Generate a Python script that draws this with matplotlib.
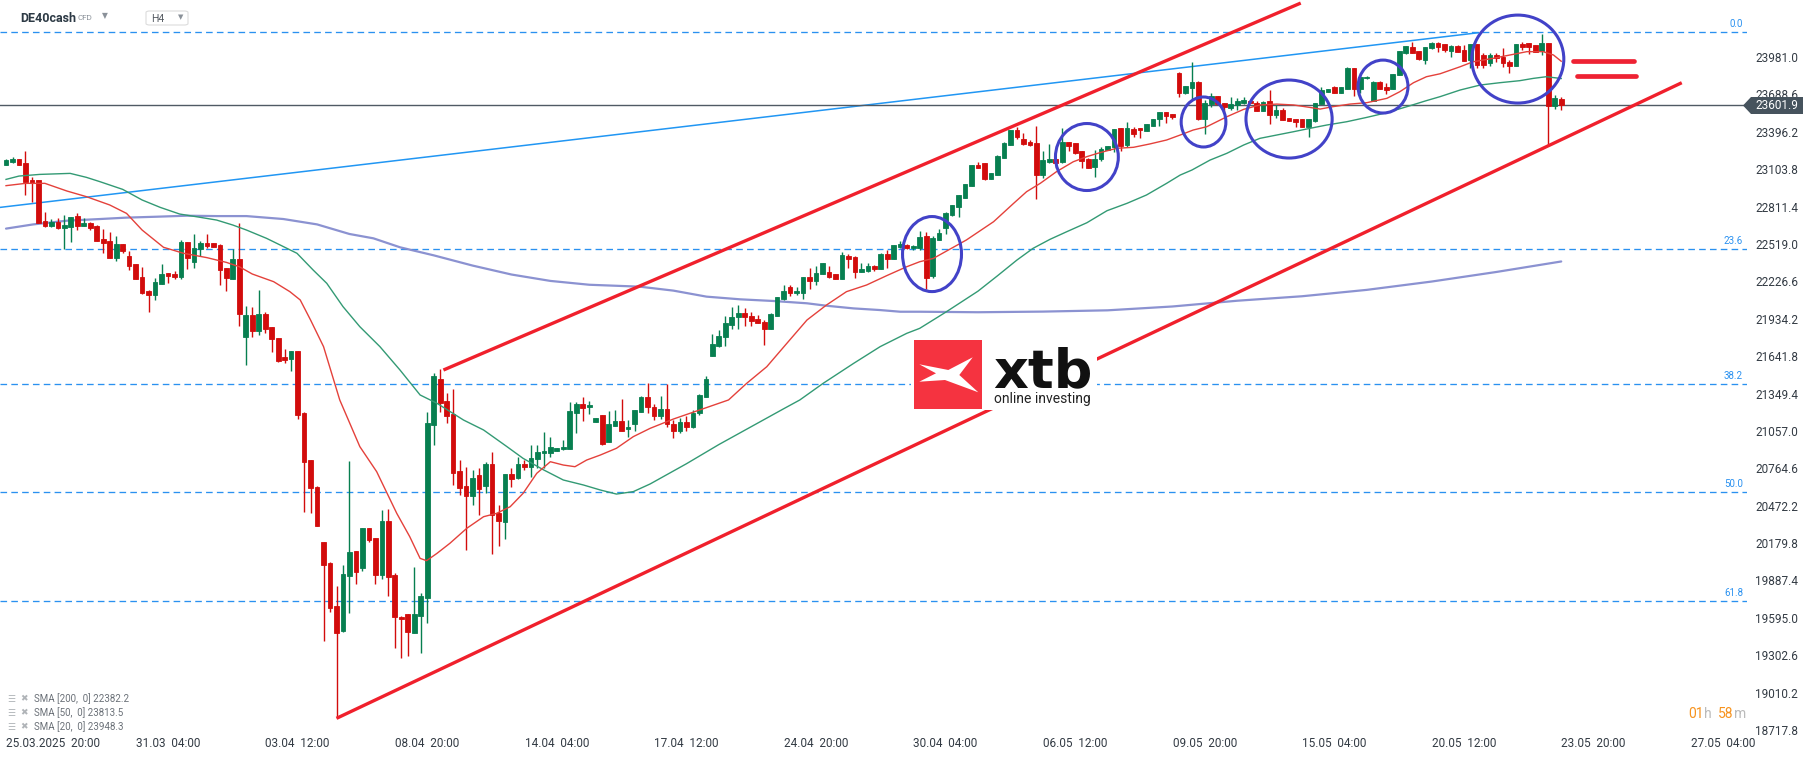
import numpy as np
import matplotlib
matplotlib.use("Agg")
import matplotlib.pyplot as plt
from matplotlib.patches import Ellipse, Polygon, Rectangle, FancyBboxPatch

plt.rcParams['font.family'] = ['Roboto', 'DejaVu Sans']

# ---------------- data ----------------
opens = [23139,23162,23183,23152,23019,23019,22698,22662,22688,22646,22654,22737,22662,22683,22659,22558,22542,22412,22519,22425,
         22362,22260,22151,22122,22208,22292,22284,22260,22534,22380,22477,22524,22524,22511,22328,22247,22401,21794,21963,21841,
         21971,21867,21784,21635,21619,21682,21199,20829,20621,20188,20026,19688,19492,19922,20118,19982,20298,20219,19930,20352,
         19930,19604,19625,19479,19612,19753,21103,21463,21291,21189,20743,20626,20550,20709,20626,20795,20412,20347,20720,20686,
         20795,20777,20834,20882,20887,20902,20913,20918,21199,21267,21241,21129,21181,20973,21098,21137,21069,21108,21207,21325,
         21246,21170,21230,21110,21060,21130,21090,21200,21325,21643,21721,21794,21885,21950,21976,21955,21932,21906,21856,21958,
         22086,22180,22133,22138,22258,22232,22284,22302,22284,22247,22425,22420,22302,22310,22347,22323,22440,22404,22498,22511,
         22487,22485,22581,22270,22550,22640,22745,22810,22881,22975,23136,23149,23027,23058,23194,23293,23410,23340,23319,23306,
         23058,23162,23183,23162,23314,23306,23246,23183,23123,23183,23254,23280,23423,23293,23415,23423,23405,23441,23496,23548,
         23532,23858,23697,23741,23788,23493,23614,23676,23619,23585,23606,23619,23640,23624,23561,23640,23527,23566,23506,23496,
         23496,23436,23483,23613,23710,23744,23702,23731,23892,23731,23814,23640,23788,23744,23731,23840,24010,24057,24028,23958,
         24049,24088,24083,24028,24070,24036,23958,24083,23997,23937,23997,23984,23939,23913,24083,24088,24075,24030,24088,23598,
         23650]
highs = [23181,23196,23186,23246,23045,23019,22771,22711,22719,22745,22727,22761,22719,22690,22665,22636,22610,22581,22522,22467,
         22365,22339,22159,22253,22362,22295,22305,22550,22537,22597,22542,22597,22530,22519,22330,22477,22680,22034,22023,22159,
         21989,21870,21786,21698,21684,21684,21207,20831,20623,20190,20034,19844,20008,20824,20120,20298,20300,20221,20438,20444,
         19948,19606,19627,19995,19792,21207,21507,21541,21351,21385,20829,20777,20751,20764,20816,20894,20477,20722,20764,20855,
         20829,20947,20947,21051,21012,20925,20986,21286,21286,21319,21290,21160,21183,21212,21220,21304,21142,21222,21327,21429,
         21270,21330,21420,21140,21160,21170,21220,21345,21486,21815,21846,21955,22023,22041,22015,21984,21963,21924,21981,22103,
         22198,22198,22185,22260,22328,22347,22369,22347,22286,22453,22440,22425,22367,22367,22352,22451,22472,22513,22542,22520,
         22510,22620,22610,22580,22633,22766,22826,22901,22990,23138,23162,23151,23073,23211,23313,23412,23431,23384,23332,23441,
         23246,23301,23185,23423,23316,23308,23248,23188,23254,23275,23287,23417,23425,23475,23431,23425,23459,23495,23550,23550,
         23534,23866,23756,23944,23790,23645,23697,23678,23621,23665,23660,23665,23642,23640,23634,23723,23605,23580,23508,23498,
         23498,23498,23621,23744,23733,23754,23746,23900,23894,23829,23830,23790,23790,23775,23847,24030,24069,24096,24030,24059,
         24096,24101,24085,24072,24072,24075,24085,24085,24010,24010,24010,24049,23958,24085,24101,24090,24077,24161,24090,23684,
         23671]
lows = [23139,23155,23139,22902,22850,22685,22654,22654,22638,22482,22537,22628,22660,22631,22542,22451,22410,22388,22451,22315,
        22245,22125,21989,22083,22205,22216,22247,22247,22326,22334,22425,22485,22495,22198,22154,22245,21880,21572,21794,21807,
        21820,21677,21593,21585,21528,21150,20425,20417,20314,19416,19643,18809,19487,19635,19857,19964,20186,19860,19901,19766,
        19362,19278,19297,19477,19317,19557,20947,21207,21116,20634,20556,20125,20477,20399,20569,20092,20157,20214,20621,20684,
        20751,20699,20764,20764,20855,20900,20911,20916,21038,21137,21190,21127,20947,20971,21096,21057,21007,21059,21205,21194,
        21140,21150,21090,21000,21040,21060,21080,21180,21320,21641,21716,21723,21854,21854,21880,21880,21898,21729,21854,21956,
        22081,22115,22120,22086,22164,22198,22282,22255,22245,22245,22333,22250,22300,22302,22310,22321,22333,22399,22485,22480,
        22472,22472,22170,22250,22548,22600,22740,22732,22879,22973,23110,23022,23025,23056,23192,23291,23337,23293,23285,22871,
        23032,23155,23110,23155,23246,23222,23110,23110,23045,23170,23252,23241,23246,23280,23353,23345,23403,23439,23441,23462,
        23500,23671,23695,23650,23488,23376,23593,23612,23540,23567,23570,23617,23620,23558,23559,23454,23501,23486,23481,23436,
        23434,23353,23470,23611,23708,23697,23700,23729,23676,23697,23812,23638,23729,23692,23729,23838,24008,24013,23961,23924,
        24047,24023,24023,23983,24021,23951,23892,23897,23897,23910,23944,23905,23853,23911,24036,24005,24021,23997,23293,23572,
        23567]
closes = [23175,23183,23139,23006,22993,22685,22662,22688,22646,22667,22727,22662,22680,22646,22545,22527,22412,22519,22467,22349,
          22247,22138,22122,22221,22284,22271,22260,22537,22412,22487,22527,22503,22495,22315,22255,22401,21974,21963,21841,21971,
          21854,21773,21604,21612,21682,21181,20816,20608,20316,20011,19674,19479,19938,20110,19956,20298,20204,19930,20352,19917,
          19604,19583,19487,19625,19766,21119,21486,21278,21176,20728,20613,20550,20691,20600,20795,20402,20355,20720,20678,20795,
          20777,20842,20889,20900,20928,20923,20931,21213,21267,21233,21259,21158,20952,21111,21137,21059,21090,21220,21325,21246,
          21170,21230,21110,21060,21130,21090,21200,21338,21460,21734,21799,21898,21945,21976,21950,21919,21903,21856,21971,22101,
          22151,22133,22151,22258,22232,22289,22367,22263,22247,22433,22404,22302,22323,22347,22323,22440,22404,22511,22516,22485,
          22506,22576,22253,22568,22602,22764,22824,22899,22988,23136,23115,23024,23071,23209,23311,23410,23353,23301,23293,23058,
          23175,23183,23149,23319,23285,23233,23170,23115,23183,23259,23285,23415,23285,23423,23379,23410,23457,23493,23548,23522,
          23514,23697,23754,23788,23493,23619,23676,23614,23587,23611,23640,23645,23624,23561,23632,23527,23566,23488,23483,23475,
          23436,23496,23619,23723,23731,23702,23744,23892,23731,23827,23827,23788,23731,23723,23845,24028,24067,24015,23963,24057,
          24088,24062,24036,24070,24023,23953,24083,23918,23918,23997,23971,23932,23913,24083,24062,24062,24023,24088,23598,23658,
          23602]

sma20_x = [0,3,6,9.4,12.4,16,18.6,21,24.3,27.4,31,34,36,38,41.3,43.8,45.4,47,49,51.5,54.6,57.2,60.3,62.3,63.9,64.9,66.5,68.5,
           71.1,73.7,75.7,77.8,79.8,81.9,84,86,87.8,89.6,91.7,94.2,96.8,99.4,103,107,111.5,114.3,117.4,120.5,123.6,126.6,129.7,
           132.8,135.9,139,141,143.1,148.2,152.4,155.5,157.5,159.6,162.1,164.7,166.8,168.8,171.4,174,176.5,179.1,181.2,183.2,
           185.3,188.4,191,193.5,196.1,198.7,201.2,202.8,204.8,207.4,210,213.1,215.1,217.2,219.2,221.3,224.4,226.4,229.5,232.6,
           234.7,237.2,238.8,240]
sma20_y = [22975,22993,22993,22933,22889,22824,22758,22628,22493,22446,22412,22375,22341,22284,22224,22146,22081,21924,21716,
           21299,20934,20738,20412,20230,20060,20042,20099,20178,20295,20386,20412,20464,20569,20725,20816,20790,20777,20829,
           20868,20921,21012,21077,21150,21220,21299,21429,21559,21742,21924,22041,22146,22198,22271,22341,22380,22406,22550,
           22693,22837,22928,22993,23084,23162,23202,23233,23267,23275,23301,23332,23371,23410,23436,23514,23572,23606,23613,
           23606,23587,23574,23593,23613,23624,23658,23710,23780,23827,23850,23905,23944,23971,24002,24023,24023,23997,23948]

sma50_x = [0,2,5.2,9.9,12.4,14.5,18,21,23.8,26.8,30,32.5,35,37.1,40.2,42.3,44.9,47.4,49.5,52,54.6,57.7,60.8,63.9,66.5,70.6,
           73.7,77.3,79.8,83,86,89.1,91.7,94.2,96.8,99.4,105,110,115,120,122.5,126.1,130.8,134.9,139,141,145,150,153,156,158.5,
           161.1,163.7,166.8,169.9,173,176,179.1,181.2,183,185.8,188.4,191,193.5,196.1,198.7,201.2,203.8,206.9,210,213.1,216.2,
           219.2,221.3,224.4,227.5,230.5,233.6,235.7,237.7,240]
sma50_y = [23024,23050,23063,23071,23040,23006,22946,22863,22805,22753,22727,22706,22667,22628,22563,22511,22446,22315,22211,
           22029,21872,21716,21533,21338,21273,21142,21064,20934,20842,20751,20673,20634,20595,20563,20582,20642,20800,20950,
           21090,21230,21299,21429,21585,21716,21820,21859,21985,22150,22270,22393,22485,22555,22615,22685,22779,22837,22902,
           22993,23058,23097,23175,23228,23293,23345,23371,23397,23423,23449,23475,23509,23546,23593,23640,23671,23723,23762,
           23780,23796,23814,23827,23813]

sma200_x = [0,4.2,9.4,14.5,18.6,23.2,27.9,32.5,37.1,42.8,48,53,56.7,60.8,66,72,78,84,90,97.8,103,108.1,113.3,118.4,123.6,
            126.6,130.8,134.9,138,141,150,160,170,180,190,200,210,220,230,240]
sma200_y = [22639,22672,22701,22714,22725,22732,22740,22737,22737,22714,22672,22597,22563,22493,22430,22350,22280,22230,22200,
            22185,22154,22107,22086,22073,22055,22036,22015,22002,21989,21989,21985,21990,22000,22030,22075,22110,22160,22225,
            22300,22382]

last_price = 23601.9
fib_labels = ["0.0", "23.6", "38.2", "50.0", "61.8"]
fib_prices = [24174, 22477, 21427, 20578, 19730]

channel_upper = [(67.5, 21533), (199.8, 24403)]
channel_lower = [(51.0, 18809), (258.6, 23780)]
blue_line = [(-0.93, 22805), (227.2, 24171)]

ellipses = [(142.9, 22440, 9.1, 587), (166.8, 23199, 9.7, 524), (184.8, 23473, 6.9, 391),
            (198.0, 23496, 13.3, 610), (212.5, 23750, 7.7, 414), (233.3, 23965, 14.2, 688)]
equal_marks = [((241.8, 251.2), 23947), ((242.4, 251.5), 23830)]

yticks = [23981.0, 23688.6, 23396.2, 23103.8, 22811.4, 22519.0, 22226.6, 21934.2, 21641.8, 21349.4,
          21057.0, 20764.6, 20472.2, 20179.8, 19887.4, 19595.0, 19302.6, 19010.2, 18717.8]
xtick_pos = [5, 25, 45, 65, 85, 105, 125, 145, 165, 185, 205, 225, 245, 265]
xtick_lab = ["25.03.2025  20:00", "31.03  04:00", "03.04  12:00", "08.04  20:00", "14.04  04:00", "17.04  12:00",
             "24.04  20:00", "30.04  04:00", "06.05  12:00", "09.05  20:00", "15.05  04:00", "20.05  12:00",
             "23.05  20:00", "27.05  04:00"]
legend_rows = ["SMA [200,  0] 22382.2", "SMA [50,  0] 23813.5", "SMA [20,  0] 23948.3"]

# ---------------- figure ----------------
W, H = 1815, 759
fig = plt.figure(figsize=(W / 100, H / 100), dpi=100)
fig.patch.set_facecolor("white")
AX_R, AX_B = 1747, 737
ax = fig.add_axes([0, 1 - AX_B / H, AX_R / W, AX_B / H])
ax.set_facecolor("white")
for s in ax.spines.values():
    s.set_visible(False)
ax.set_xlim(-0.93, 268.67)
ax.set_ylim(18663, 24427)

def px(x, y):
    return (x / W, 1 - y / H)

GREEN = "#077f50"
RED = "#d20c0c"
FIB = "#2a91f0"

# fib lines
for lab, pr in zip(fib_labels, fib_prices):
    ax.axhline(pr, color=FIB, lw=0.95, dashes=(5, 3.2), zorder=1)
    ax.annotate(lab, xy=(1743 / AX_R, pr), xycoords=("axes fraction", "data"), xytext=(0, 2.2),
                textcoords="offset points", ha="right", va="bottom", fontsize=7, color=FIB, zorder=2)

# blue thin trend line
ax.plot([p[0] for p in blue_line], [p[1] for p in blue_line], color="#2196f3", lw=1.1, zorder=2)

# last price line
ax.axhline(last_price, color="#505a64", lw=1.0, zorder=2)

# SMAs
ax.plot(sma200_x, sma200_y, color="#7f86cc", lw=1.6, alpha=0.9, zorder=2.5, solid_capstyle="round")
ax.plot(sma50_x, sma50_y, color="#339a74", lw=1.0, zorder=4)
ax.plot(sma20_x, sma20_y, color="#e4413b", lw=1.0, zorder=4)

# candles
idx = np.arange(len(opens))
o = np.array(opens, float); c = np.array(closes, float)
hi = np.array(highs, float); lo = np.array(lows, float)
up = c >= o
cols = np.where(up, GREEN, RED)
ax.vlines(idx, lo, hi, colors=cols, lw=1.0, zorder=3)
bottoms = np.minimum(o, c)
heights = np.abs(c - o)
ax.bar(idx, heights, bottom=bottoms, width=0.72, color=cols, edgecolor=cols, linewidth=0.6, zorder=3.1)

# channel lines
for ln in (channel_upper, channel_lower):
    ax.plot([p[0] for p in ln], [p[1] for p in ln], color="#f0202c", lw=2.4, zorder=5, solid_capstyle="butt")

# ellipses
for cx, cy, w, h in ellipses:
    ax.add_patch(Ellipse((cx, cy), w, h, fill=False, ec="#4242c8", lw=2.2, zorder=6))

# "=" marks
for (x0, x1), yv in equal_marks:
    ax.plot([x0, x1], [yv, yv], color="#ee2233", lw=3.4, solid_capstyle="round", zorder=6)

# y ticks on right
ax.yaxis.tick_right()
ax.set_yticks(yticks)
ax.set_yticklabels([f"{v:.1f}" for v in yticks])
ax.tick_params(axis="y", length=0, pad=6, labelsize=8.5, labelcolor="#333b44")
ax.set_xticks([])

# x labels
xt = ax.get_xaxis_transform()
for i, (pos, lab) in enumerate(zip(xtick_pos, xtick_lab)):
    if i == 0:
        ax.text(0, -0.0085, lab, transform=xt, ha="left", va="center", fontsize=8.5, color="#333b44", clip_on=False)
    else:
        ax.text(pos, -0.0085, lab, transform=xt, ha="center", va="center", fontsize=8.5, color="#333b44", clip_on=False)

# price tag
yt = ax.get_yaxis_transform()
hh = 8.5 / (AX_B / (24427 - 18663))
tag = Polygon([(1743 / AX_R, last_price), (1751 / AX_R, last_price + hh), (1803 / AX_R, last_price + hh),
               (1803 / AX_R, last_price - hh), (1751 / AX_R, last_price - hh)], closed=True,
              transform=yt, fc="#46535d", ec="none", clip_on=False, zorder=10)
ax.add_patch(tag)
ax.text(1755 / AX_R, last_price, f"{last_price:.1f}", transform=yt, ha="left", va="center",
        fontsize=8.5, color="white", zorder=11, clip_on=False)

# logo (white backdrop, red square, X, text)
fig.patches.append(Rectangle(px(911, 410), 186 / W, 73 / H, transform=fig.transFigure, fc="white", ec="none", zorder=20))
fig.patches.append(Rectangle(px(914, 409), 68 / W, 69 / H, transform=fig.transFigure, fc="#f53340", ec="none", zorder=21))
xshape = [(919.3, 364.3), (948.3, 370), (972.7, 357.3), (959.3, 375), (978.3, 392.3), (945, 380), (919.3, 381.7), (936, 373.3)]
fig.patches.append(Polygon([px(a, b) for a, b in xshape], closed=True, transform=fig.transFigure, fc="white", ec="none", zorder=22))
fig.text(*px(993, 387), "xtb", fontsize=39, fontweight="bold", color="#111111", ha="left", va="baseline",
         family=["DejaVu Sans"], zorder=23)
fig.text(*px(994, 403), "online investing", fontsize=10, color="#222222", ha="left", va="baseline", zorder=23)

# top-left header
fig.text(*px(20, 18), "DE40cash", fontsize=9, fontweight="bold", color="#2d3a45", ha="left", va="center")
fig.text(*px(78, 18), "CFD", fontsize=5.8, color="#8a9199", ha="left", va="center")
fig.text(*px(105, 16), "▼", fontsize=5.5, color="#8a9199", ha="center", va="center", family=["DejaVu Sans"])
fig.patches.append(FancyBboxPatch(px(146, 25), 42 / W, 14 / H, boxstyle="round,pad=0,rounding_size=0.002",
                                  transform=fig.transFigure, fc="white", ec="#dcdcdc", lw=0.8))
fig.text(*px(151, 18.5), "H4", fontsize=7.5, color="#555b62", ha="left", va="center")
fig.text(*px(181, 17), "▼", fontsize=5, color="#8a9199", ha="center", va="center", family=["DejaVu Sans"])

# indicator legend
for k, row in enumerate(legend_rows):
    yy = 699 + 14 * k
    fig.text(*px(7, yy), "☰", fontsize=6.5, color="#b0b4b8", ha="left", va="center", family=["DejaVu Sans"])
    fig.text(*px(20, yy), "✖", fontsize=6.5, color="#b0b4b8", ha="left", va="center", family=["DejaVu Sans"])
    fig.text(*px(34, yy), row, fontsize=7, color="#6b7178", ha="left", va="center")

# countdown
fig.text(*px(1688, 714), "01", fontsize=10, color="#f7931e", ha="left", va="center")
fig.text(*px(1704, 714), "h", fontsize=10, color="#bbbbbb", ha="left", va="center")
fig.text(*px(1718, 714), "58", fontsize=10, color="#f7931e", ha="left", va="center")
fig.text(*px(1734, 714), "m", fontsize=10, color="#bbbbbb", ha="left", va="center")

fig.savefig("out.png", dpi=100, facecolor="white")
